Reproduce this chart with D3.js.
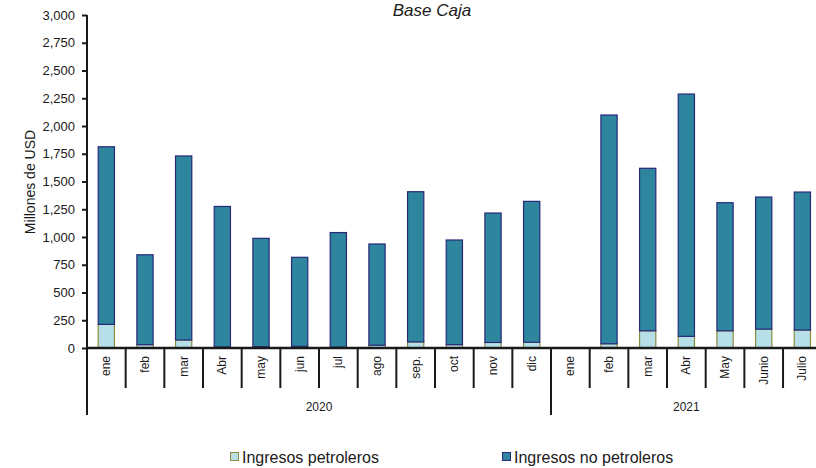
<!DOCTYPE html>
<html>
<head>
<meta charset="utf-8">
<script src="https://cdn.jsdelivr.net/npm/d3@7"></script>
<style>
  html, body { margin: 0; padding: 0; background: #fff; }
  svg { display: block; }
  text { font-family: "Liberation Sans", Arial, sans-serif; fill: #1a1a1a; }
</style>
</head>
<body>
<svg id="chart" width="816" height="468"></svg>
<script>
// ---- Data ----
const years = ["2020", "2021"];
const months2020 = ["ene", "feb", "mar", "Abr", "may", "jun", "jul", "ago", "sep.", "oct", "nov", "dic"];
const months2021 = ["ene", "feb", "mar", "Abr", "May", "Junio", "Julio"];
const petroleros2020 = [213, 30, 72, 10, 12, 15, 8, 25, 55, 30, 50, 52];
const noPetroleros2020 = [1600, 810, 1658, 1265, 976, 802, 1032, 912, 1353, 943, 1166, 1269];
const petroleros2021 = [0, 38, 155, 105, 155, 170, 162];
const noPetroleros2021 = [0, 2061, 1464, 2183, 1154, 1190, 1243];
const yTicks = [0, 250, 500, 750, 1000, 1250, 1500, 1750, 2000, 2250, 2500, 2750, 3000];
const seriesNames = ["Ingresos petroleros", "Ingresos no petroleros"];
const title = "Base Caja";
const yTitle = "Millones de USD";

(function () {
// ---- Build rows ----
const rows = [];
months2020.forEach((m, i) => rows.push({ key: "2020-" + i, label: m, year: "2020", pet: petroleros2020[i], nopet: noPetroleros2020[i] }));
months2021.forEach((m, i) => rows.push({ key: "2021-" + i, label: m, year: "2021", pet: petroleros2021[i], nopet: noPetroleros2021[i] }));

const svg = d3.select("#chart");
const pLeft = 87, pRight = 821.7, pTop = 15, pBottom = 348;

const x = d3.scaleBand().domain(rows.map(d => d.key)).range([pLeft, pRight])
  .paddingInner(0.58).paddingOuter(0.29);
const y = d3.scaleLinear().domain([0, 3000]).range([pBottom, pTop]);

const stack = d3.stack().keys(["pet", "nopet"])(rows);
const fills = ["#b7dfe8", "#2d869d"];
const strokes = ["#8c8c3e", "#27287a"];

stack.forEach((layer, li) => {
  svg.append("g").selectAll("rect").data(layer.filter(d => d[1] - d[0] > 0)).join("rect")
    .attr("x", d => x(d.data.key))
    .attr("width", x.bandwidth())
    .attr("y", d => y(d[1]))
    .attr("height", d => y(d[0]) - y(d[1]))
    .attr("fill", fills[li])
    .attr("stroke", strokes[li])
    .attr("stroke-width", 1.2);
});

// ---- Y axis ----
const yAxis = d3.axisLeft(y).tickValues(yTicks).tickFormat(d3.format(",")).tickSize(5).tickSizeOuter(0).tickPadding(7);
const gy = svg.append("g").attr("transform", `translate(${pLeft},0)`).call(yAxis);
gy.select(".domain").remove();
gy.selectAll(".tick line").attr("stroke", "#1a1a1a").attr("stroke-width", 2);
gy.selectAll(".tick text").style("font-size", "13px").style("font-family", "'Liberation Sans', Arial, sans-serif").attr("fill", "#1a1a1a");

// axis lines
svg.append("line").attr("x1", pLeft).attr("x2", pLeft).attr("y1", pTop).attr("y2", 415)
  .attr("stroke", "#1a1a1a").attr("stroke-width", 2);
svg.append("line").attr("x1", pLeft).attr("x2", 816).attr("y1", pBottom).attr("y2", pBottom)
  .attr("stroke", "#1a1a1a").attr("stroke-width", 2.5);

// ---- X category boundaries and labels ----
const step = x.step();
const boundaryX = i => pLeft + i * step;
const gx = svg.append("g");
for (let i = 1; i <= rows.length; i++) {
  const isYear = (i === months2020.length) || (i === rows.length);
  gx.append("line")
    .attr("x1", boundaryX(i)).attr("x2", boundaryX(i))
    .attr("y1", pBottom).attr("y2", isYear ? 415 : 388)
    .attr("stroke", "#1a1a1a").attr("stroke-width", 2);
}
gx.selectAll("text.cat").data(rows).join("text")
  .attr("class", "cat")
  .attr("transform", d => `translate(${x(d.key) + x.bandwidth() / 2 + 4},356) rotate(-90)`)
  .attr("text-anchor", "end")
  .style("font-size", "12px")
  .text(d => d.label);

// year labels
const yearSpans = [[0, months2020.length], [months2020.length, rows.length]];
years.forEach((yr, i) => {
  svg.append("text")
    .attr("x", (boundaryX(yearSpans[i][0]) + boundaryX(yearSpans[i][1])) / 2)
    .attr("y", 411)
    .attr("text-anchor", "middle")
    .style("font-size", "12px")
    .text(yr);
});

// ---- Titles ----
svg.append("text").attr("x", 432).attr("y", 16).attr("text-anchor", "middle")
  .style("font-size", "17px").style("font-style", "italic").text(title);
svg.append("text").attr("transform", "translate(35,182) rotate(-90)").attr("text-anchor", "middle")
  .style("font-size", "14px").text(yTitle);

// ---- Legend ----
const legendItems = [{ x: 230, fill: fills[0], stroke: strokes[0] }, { x: 502, fill: fills[1], stroke: strokes[1] }];
legendItems.forEach((it, i) => {
  svg.append("rect").attr("x", it.x + 0.5).attr("y", 452.5).attr("width", 8).attr("height", 8)
    .attr("fill", it.fill).attr("stroke", it.stroke).attr("stroke-width", 1);
  svg.append("text").attr("x", it.x + 12).attr("y", 462.5)
    .style("font-size", "16px").text(seriesNames[i]);
});
})();
</script>
</body>
</html>
